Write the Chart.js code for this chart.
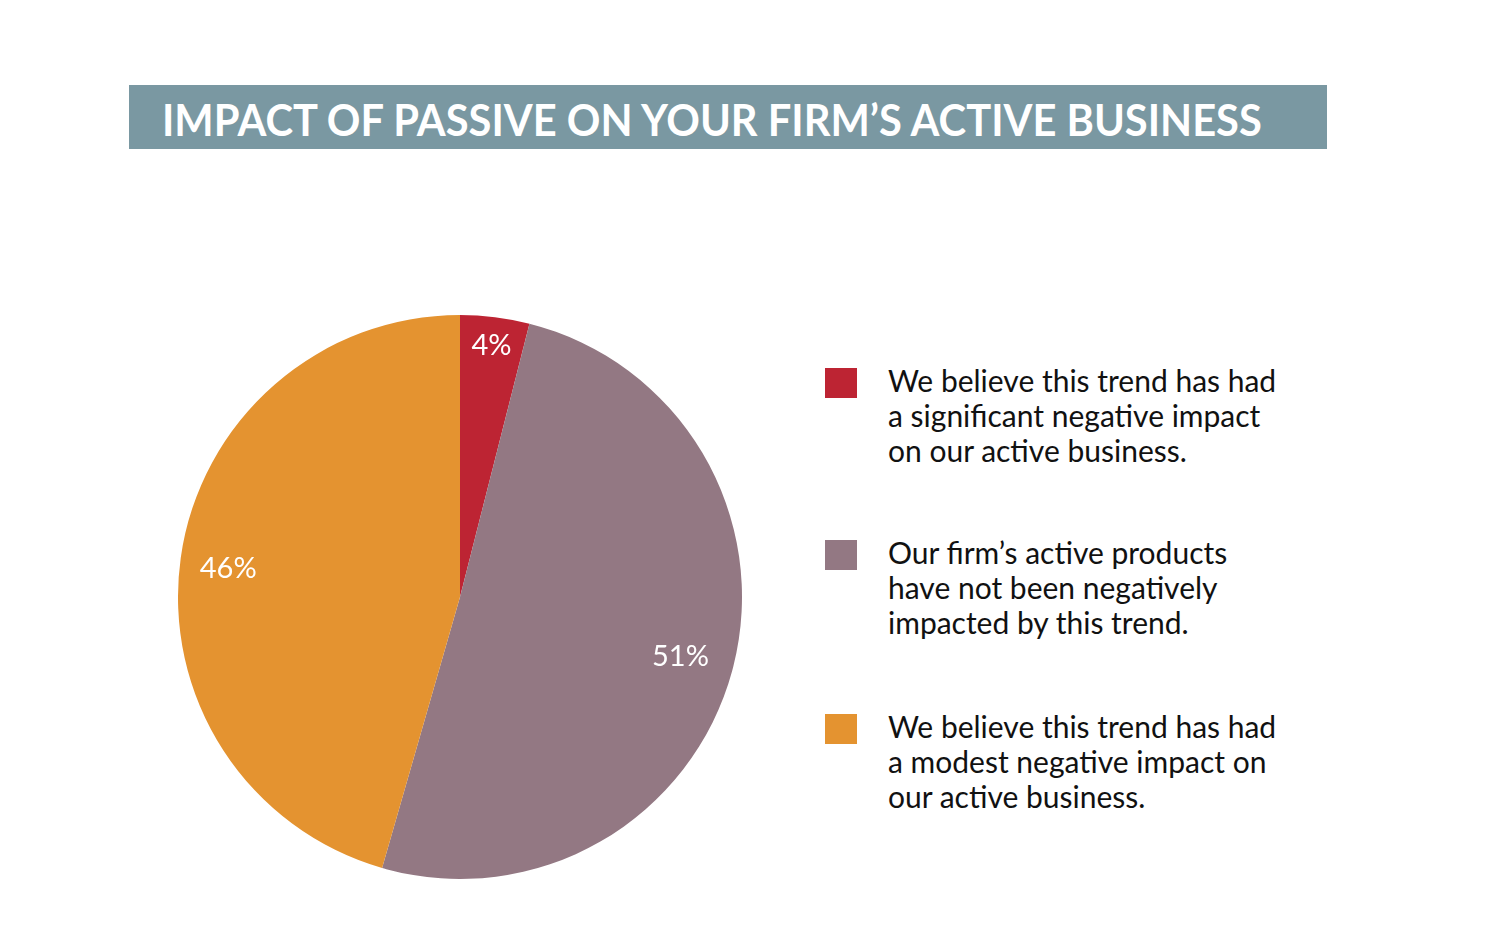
<!DOCTYPE html>
<html>
<head>
<meta charset="utf-8">
<script src="https://cdn.jsdelivr.net/npm/chart.js@4.4.1/dist/chart.umd.min.js"></script>
<style>
    body { margin: 0; background: #fff; width: 1488px; height: 952px; position: relative; overflow: hidden; font-family: 'Lato', 'Open Sans', sans-serif; }
    #banner { position: absolute; left: 129px; top: 85px; width: 1198px; height: 64px; background: #7a98a2; }
    #title { position: absolute; left: 33px; top: 2px; line-height: 64px; color: #fff; font-weight: 700; font-size: 44px; white-space: nowrap; transform-origin: left center; }
    #pieBox { position: absolute; left: 178px; top: 315px; width: 564px; height: 564px; }
    #legend { position: absolute; left: 825px; top: 0; }
    .legend-item { position: absolute; left: 0; width: 500px; }
    .legend-box { position: absolute; left: 0; width: 32px; height: 30px; }
    .legend-text { position: absolute; left: 63px; top: -5px; font-size: 30px; line-height: 35px; color: #111; white-space: nowrap; }
</style>
</head>
<body>
<div id="banner"><div id="title">IMPACT OF PASSIVE ON YOUR FIRM’S ACTIVE BUSINESS</div></div>
<div id="pieBox"><canvas id="pieChart"></canvas></div>
<div id="legend"></div>

<script>
// נתוני הגרף
const categories = [
    ['We believe this trend has had', 'a significant negative impact', 'on our active business.'],
    ['Our firm’s active products', 'have not been negatively', 'impacted by this trend.'],
    ['We believe this trend has had', 'a modest negative impact on', 'our active business.']
];
const shares = [4, 51, 46];
const sliceColors = ['#bd2433', '#937883', '#e49330'];

// התאמת רוחב הכותרת
const title = document.getElementById('title');
title.style.transform = 'scaleX(' + (1100 / title.offsetWidth) + ')';

// מקרא
const legendTops = [368, 540, 714];
const legend = document.getElementById('legend');
categories.forEach((lines, i) => {
    const item = document.createElement('div');
    item.className = 'legend-item';
    item.style.top = legendTops[i] + 'px';
    item.innerHTML = `
        <div class="legend-box" style="background:${sliceColors[i]}"></div>
        <div class="legend-text">${lines.join('<br>')}</div>
    `;
    legend.appendChild(item);
});

// תוויות אחוזים בתוך הפרוסות
const labelRadius = [0.9, 0.81, 0.83];
const sliceLabels = {
    id: 'sliceLabels',
    afterDatasetsDraw(chart) {
        const ctx = chart.ctx;
        const meta = chart.getDatasetMeta(0);
        ctx.save();
        ctx.fillStyle = '#fff';
        ctx.font = '29px Lato, sans-serif';
        ctx.textAlign = 'center';
        ctx.textBaseline = 'middle';
        meta.data.forEach((arc, i) => {
            const mid = (arc.startAngle + arc.endAngle) / 2;
            const r = arc.outerRadius * labelRadius[i];
            ctx.fillText(shares[i] + '%', arc.x + Math.cos(mid) * r, arc.y + Math.sin(mid) * r + (i === 2 ? 4 : 0));
        });
        ctx.restore();
    }
};

new Chart(document.getElementById('pieChart'), {
    type: 'pie',
    data: {
        labels: categories.map(l => l.join(' ')),
        datasets: [{
            data: shares,
            backgroundColor: sliceColors,
            borderWidth: 0,
            hoverOffset: 0
        }]
    },
    options: {
        responsive: true,
        maintainAspectRatio: false,
        animation: false,
        layout: { padding: 0 },
        plugins: { legend: { display: false }, tooltip: { enabled: false } }
    },
    plugins: [sliceLabels]
});
</script>
</body>
</html>
